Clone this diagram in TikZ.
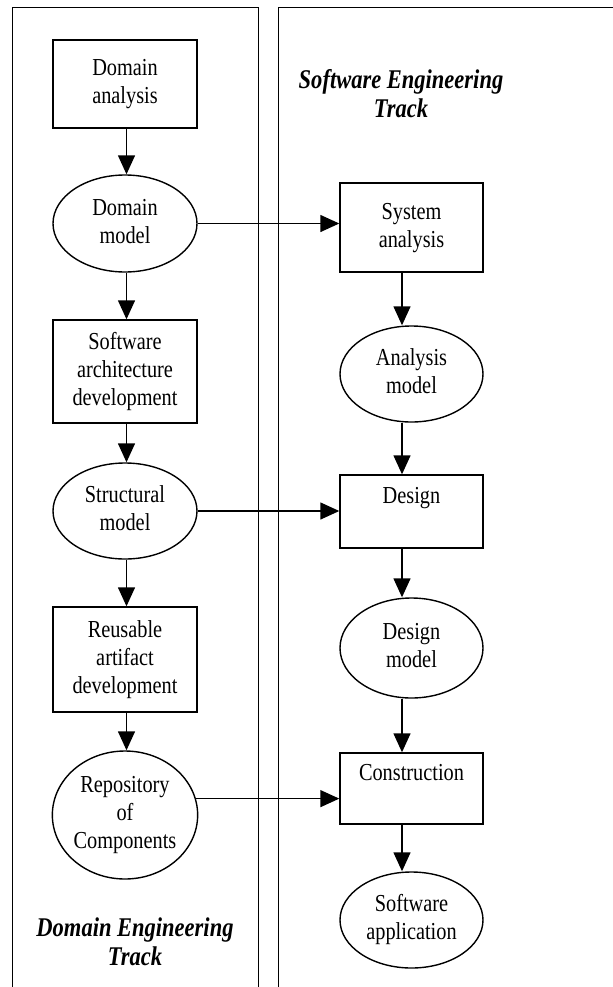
\documentclass[tikz,border=0pt]{standalone}
\usepackage{graphicx}
\usepackage{fontspec}
\setmainfont{Liberation Serif}
\usetikzlibrary{shapes.geometric,arrows.meta}
\newcommand\tx[1]{\scalebox{1}[1.2]{\fontsize{20.4}{23.4}\selectfont\begin{tabular}{@{}c@{}}#1\end{tabular}}}
\newcommand\ttl[1]{\scalebox{1}[1.2]{\fontsize{22.6}{25}\selectfont\bfseries\itshape\begin{tabular}{@{}c@{}}#1\end{tabular}}}
\begin{document}
\begin{tikzpicture}[x=1bp,y=-1bp,
  box/.style={draw,rectangle,line width=1.4bp,minimum width=144bp,inner sep=0pt},
  ell/.style={draw,ellipse,line width=1.4bp,minimum width=144bp,inner sep=0pt},
  arr/.style={line width=1.4bp,-{Triangle[length=19bp,width=17bp]}},
  panel/.style={line width=1.4bp},
  title/.style={inner sep=0pt}]
\useasboundingbox (0,0) rectangle (613,987);
\fill[white] (0,0) rectangle (613,987);
% panels
\draw[panel] (12.5,990) |- (258.3,7.5) -- (258.3,990);
\draw[panel] (278.3,990) |- (616,7.5);
% titles
\node[title] (setitle) at (401,97) {\ttl{Software Engineering\\Track}};
\node[title] (detitle) at (135,945) {\ttl{Domain Engineering\\Track}};
% left column
\node[box,minimum height=88bp] (da) at (125,84) {\tx{Domain\\analysis}};
\node[ell,minimum height=97bp] (dm) at (125,223.5) {\tx{Domain\\model}};
\node[box,minimum height=103bp] (sad) at (125,371.5) {\tx{Software\\architecture\\development}};
\node[ell,minimum height=96bp] (sm) at (125,511) {\tx{Structural\\model}};
\node[box,minimum height=105bp] (rad) at (125,659.5) {\tx{Reusable\\artifact\\development}};
\node[ell,minimum height=128bp] (rep) at (125,815) {\tx{Repository\\of\\Components}};
% right column
\node[box,minimum width=143bp,minimum height=89bp] (sys) at (411.5,227.5) {\tx{System\\analysis}};
\node[ell,minimum width=143bp,minimum height=96bp] (am) at (411.5,374) {\tx{Analysis\\model}};
\node[box,minimum width=143bp,minimum height=73bp] (des) at (411.5,511.5) {\tx{Design\\ \mbox{}}};
\node[ell,minimum width=143bp,minimum height=100bp] (dmod) at (411.5,648) {\tx{Design\\model}};
\node[box,minimum width=143bp,minimum height=71bp] (con) at (411.5,788.5) {\tx{Construction\\ \mbox{}}};
\node[ell,minimum width=143bp,minimum height=96bp] (app) at (411.5,920) {\tx{Software\\application}};
\coordinate (rx) at (402,0);
\coordinate (lx) at (126.5,0);
% left arrows
\draw[arr] (da.south -| lx) -- (dm.north -| lx);
\draw[arr] (dm.south -| lx) -- (sad.north -| lx);
\draw[arr] (sad.south -| lx) -- (sm.north -| lx);
\draw[arr] (sm.south -| lx) -- (rad.north -| lx);
\draw[arr] (rad.south -| lx) -- (rep.north -| lx);
% right arrows
\draw[arr] (sys.south -| rx) -- (am.north -| rx);
\draw[arr] (am.south -| rx) -- (des.north -| rx);
\draw[arr] (des.south -| rx) -- (dmod.north -| rx);
\draw[arr] (dmod.south -| rx) -- (con.north -| rx);
\draw[arr] (con.south -| rx) -- (app.north -| rx);
% cross arrows
\draw[arr] (dm.east) -- (dm.east -| sys.west);
\draw[arr] (sm.east) -- (sm.east -| des.west);
\draw[arr] (rep.13) -- (rep.13 -| con.west);
\end{tikzpicture}
\end{document}
